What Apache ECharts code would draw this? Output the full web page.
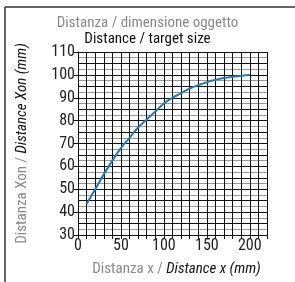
<!DOCTYPE html>
<html>
  <head>
    <meta charset="utf-8" />
    <title>Distance / target size</title>
    <script src="https://cdn.jsdelivr.net/npm/echarts@6/dist/echarts.min.js"></script>
  </head>
  <body style="margin:0">
    <div id="main" style="width:295px;height:282px;background:#fff"></div>
    <script type="text/javascript">
      // distanza x (mm)
      var distX = [10, 20, 30, 40, 50, 60, 70, 80, 90, 100, 110, 120, 130, 140, 150, 160, 170, 180, 190, 200];
      // distanza Xon (mm)
      var distXon = [43.5, 50, 56.5, 62.5, 68, 72.5, 77, 80.5, 84, 87.5, 90, 92, 94, 95.5, 96.8, 97.8, 98.6, 99.2, 99.6, 100];

      var font = '"Roboto Condensed", "Liberation Sans", sans-serif';
      var myChart = echarts.init(document.getElementById('main'));

      var points = distX.map(function (x, i) { return [x, distXon[i]]; });

      var option = {
        animation: false,
        textStyle: { fontFamily: font },
        title: {
          text: 'Distanza / dimensione oggetto',
          subtext: 'Distance / target size',
          left: 'center',
          top: 11,
          itemGap: 1,
          textStyle: { fontFamily: font, fontSize: 15, fontWeight: 'normal', color: '#8a8a8a' },
          subtextStyle: { fontFamily: font, fontSize: 15, color: '#111' }
        },
        graphic: [
          { type: 'line', shape: { x1: 5, y1: 7, x2: 295, y2: 7 }, style: { stroke: '#333', lineWidth: 1.5 } },
          { type: 'line', shape: { x1: 5, y1: 7, x2: 5, y2: 282 }, style: { stroke: '#333', lineWidth: 1.5 } }
        ],
        grid: { left: 78, right: 28, top: 52, bottom: 41 },
        xAxis: {
          type: 'value',
          min: 0,
          max: 220,
          interval: 10,
          name: '{g|Distanza x / }{b|Distance x (mm)}',
          nameLocation: 'middle',
          nameGap: 27,
          nameTextStyle: {
            padding: [0, 0, 0, 8],
            rich: {
              g: { fontFamily: font, fontSize: 15, color: '#8a8a8a' },
              b: { fontFamily: font, fontSize: 15, color: '#111', fontStyle: 'italic' }
            }
          },
          axisLine: { show: true, lineStyle: { color: '#111', width: 1 } },
          axisTick: { show: true, inside: false, length: 4, lineStyle: { color: '#111' } },
          axisLabel: {
            fontFamily: font, fontSize: 16, color: '#222', margin: 3,
            formatter: function (v) { return v % 50 === 0 && v <= 200 ? String(v) : ''; }
          },
          splitLine: { show: true, lineStyle: { color: '#111', width: 1 } }
        },
        yAxis: [
          {
            type: 'value',
            min: 30,
            max: 110,
            interval: 10,
            name: '{g|Distanza Xon / }{b|Distance Xon (mm)}',
            nameLocation: 'middle',
            nameGap: 48,
            nameTextStyle: {
              rich: {
                g: { fontFamily: font, fontSize: 15, color: '#8a8a8a' },
                b: { fontFamily: font, fontSize: 15, color: '#111', fontStyle: 'italic' }
              }
            },
            axisLine: { show: true, lineStyle: { color: '#111', width: 1 } },
            axisTick: { show: true, length: 4, lineStyle: { color: '#111' } },
            axisLabel: { fontFamily: font, fontSize: 16, color: '#222', margin: 3 },
            splitLine: { show: true, lineStyle: { color: '#111', width: 1 } },
            z: 3
          },
          {
            type: 'value',
            min: 30,
            max: 110,
            interval: 5,
            position: 'left',
            axisLine: { show: false },
            axisTick: { show: false },
            axisLabel: { show: false },
            splitLine: { show: true, lineStyle: { color: '#111', width: 1 } },
            minorTick: { show: false, splitNumber: 2 },
            minorSplitLine: { show: true, lineStyle: { color: '#999', width: 1 } }
          }
        ],
        series: [
          {
            type: 'line',
            data: points,
            smooth: true,
            symbol: 'none',
            lineStyle: { color: '#1b7cc0', width: 2 },
            z: 5
          }
        ]
      };

      myChart.setOption(option);
    </script>
  </body>
</html>
